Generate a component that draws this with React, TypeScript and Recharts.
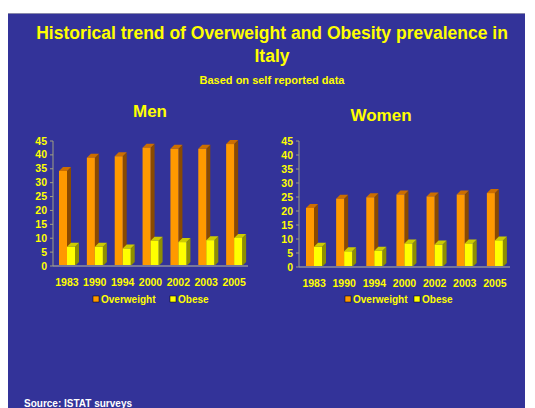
import { BarChart, Bar, XAxis, YAxis } from "recharts";

const years = ["1983", "1990", "1994", "2000", "2002", "2003", "2005"];
const menOverweight = [34.2, 39.0, 39.5, 42.6, 42.2, 42.2, 43.9];
const menObese = [6.9, 6.9, 6.3, 9.1, 8.6, 9.3, 10.1];
const womenOverweight = [21.1, 24.4, 24.9, 25.9, 25.2, 25.9, 26.4];
const womenObese = [7.2, 5.6, 5.8, 8.4, 8.0, 8.4, 9.5];
const yTicks = [0, 5, 10, 15, 20, 25, 30, 35, 40, 45];
const seriesNames = ["Overweight", "Obese"];

const BG = "#333399";
const YELLOW = "#ffff00";
const FONT = "'Liberation Sans', Arial, sans-serif";

const colors = {
  Overweight: { front: "#ff9900", top: "#cc6e00", side: "#8a4a00" },
  Obese: { front: "#ffff00", top: "#cccc00", side: "#8f8f00" },
};

const D = 4;

function Bar3D(props: any) {
  const { x, y, width, height, fill } = props;
  const c = fill === "ow" ? colors.Overweight : colors.Obese;
  if (height == null || height <= 0) return null;
  return (
    <g>
      <polygon
        points={`${x + width},${y} ${x + width + D},${y - D} ${x + width + D},${y + height - D} ${x + width},${y + height}`}
        fill={c.side}
      />
      <polygon
        points={`${x},${y} ${x + D},${y - D} ${x + width + D},${y - D} ${x + width},${y}`}
        fill={c.top}
      />
      <rect x={x} y={y} width={width} height={height} fill={c.front} />
    </g>
  );
}

function XTick(props: any) {
  const { x, y, payload } = props;
  return (
    <text x={x} y={y + 12} textAnchor="middle" fill={YELLOW} fontSize={10.5} fontWeight="bold" fontFamily={FONT}>
      {payload.value}
    </text>
  );
}

function YTick(props: any) {
  const { x, y, payload } = props;
  return (
    <text x={x - 1} y={y + 3.5} textAnchor="end" fill={YELLOW} fontSize={10.5} fontWeight="bold" fontFamily={FONT}>
      {payload.value}
    </text>
  );
}

function Panel({ ow, ob, left, width, marginLeft, marginBottom }: any) {
  const data = years.map((yr, i) => ({ year: yr, Overweight: ow[i], Obese: ob[i] }));
  return (
    <div style={{ position: "absolute", left, top: 130 }}>
      <BarChart
        width={width}
        height={160}
        data={data}
        barSize={8}
        barGap={0}
        margin={{ top: 11, right: 12, left: marginLeft, bottom: marginBottom }}
      >
        <XAxis
          dataKey="year"
          height={20}
          interval={0}
          tick={<XTick />}
          tickLine={false}
          axisLine={{ stroke: "#77779a", strokeWidth: 2 }}
        />
        <YAxis
          width={30}
          domain={[0, 45]}
          ticks={yTicks}
          interval={0}
          tick={<YTick />}
          tickSize={3}
          tickLine={{ stroke: "#a0a080" }}
          axisLine={{ stroke: "#a0a080" }}
        />
        <Bar dataKey="Overweight" fill="ow" shape={<Bar3D />} isAnimationActive={false} />
        <Bar dataKey="Obese" fill="ob" shape={<Bar3D />} isAnimationActive={false} />
      </BarChart>
    </div>
  );
}

function LegendRow({ x, widthOw }: { x: number; widthOw: number }) {
  return (
    <g fontFamily={FONT} fontSize={10} fontWeight="bold" fill={YELLOW}>
      <rect x={x} y={296} width={6} height={6} fill={colors.Overweight.front} stroke="#000" strokeWidth={0.5} />
      <text x={x + 8} y={303}>{seriesNames[0]}</text>
      <rect x={x + widthOw} y={296} width={6} height={6} fill={colors.Obese.front} stroke="#000" strokeWidth={0.5} />
      <text x={x + widthOw + 8} y={303}>{seriesNames[1]}</text>
    </g>
  );
}

export default function App() {
  return (
    <div style={{ position: "absolute", left: 0, top: 0, width: 535, height: 408, overflow: "hidden", background: "#fff" }}>
      <svg width={535} height={408} style={{ position: "absolute", left: 0, top: 0 }}>
        <rect x={8} y={13} width={517} height={395} fill={BG} />
        <line x1={8} y1={13.5} x2={525} y2={13.5} stroke="#8888aa" strokeWidth={1} />
        <g fontFamily={FONT} fontWeight="bold" fill={YELLOW} textAnchor="middle">
          <text x={272} y={39} fontSize={17.5}>Historical trend of Overweight and Obesity prevalence in</text>
          <text x={272} y={62} fontSize={17.5}>Italy</text>
          <text x={272} y={84} fontSize={11}>Based on self reported data</text>
          <text x={150} y={117} fontSize={17}>Men</text>
          <text x={381} y={121} fontSize={17}>Women</text>
        </g>
        <LegendRow x={93} widthOw={77} />
        <LegendRow x={345} widthOw={69} />
        <text x={24} y={407} fontFamily={FONT} fontWeight="bold" fontSize={10} fill="#ffffff">
          Source: ISTAT surveys
        </text>
      </svg>
      <Panel ow={menOverweight} ob={menObese} left={10} width={250} marginLeft={13} marginBottom={4} />
      <Panel ow={womenOverweight} ob={womenObese} left={260} width={262} marginLeft={9} marginBottom={3} />
    </div>
  );
}
